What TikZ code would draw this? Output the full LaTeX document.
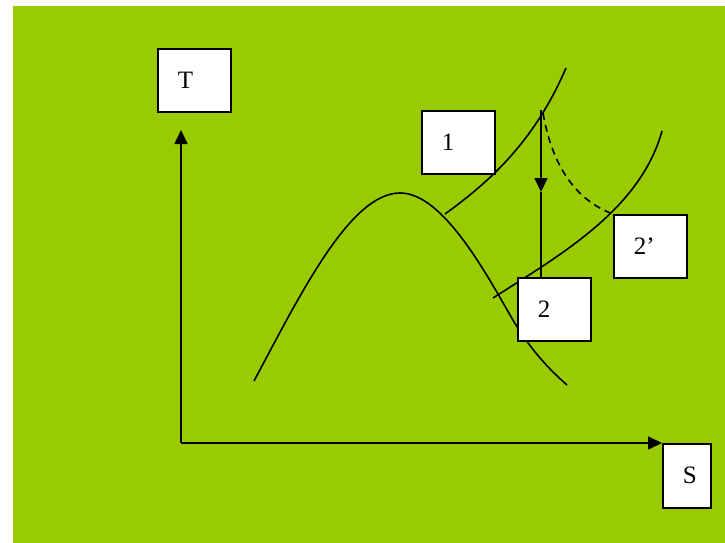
\documentclass[tikz,border=0pt]{standalone}
\usepackage{fontspec}
\setmainfont{Liberation Serif}
\usetikzlibrary{arrows.meta}
\definecolor{bggreen}{HTML}{99CC00}
\begin{document}
\begin{tikzpicture}[x=1pt,y=-1pt,
  curve/.style={line width=1.6pt},
  tagbox/.style={draw,line width=1.6pt,fill=white,anchor=north west,align=left,
    text width=33pt,inner xsep=20pt,inner ysep=0pt,minimum height=63pt,
    font=\fontsize{25}{28}\selectfont},
  axis/.style={line width=1.6pt,-{Triangle[length=14pt,width=13pt]}}]
\useasboundingbox (0,0) rectangle (725,543);
\fill[white] (0,0) rectangle (725,543);
\fill[bggreen] (13,6) rectangle (725,543);
% dome
\draw[curve] (254,381) .. controls (300,295) and (350,193) .. (400,193)
  .. controls (440,193) and (480,262) .. (510,315)
  .. controls (530,350) and (550,370) .. (567,385);
% isobars
\draw[curve] (445,214) .. controls (492,180) and (535,140) .. (566,68);
\draw[curve] (493,298) .. controls (560,255) and (640,210) .. (662,131);
% dashed
\draw[curve,dash pattern=on 7pt off 5pt] (543,113) .. controls (552,165) and (575,200) .. (613,214);
% boxes
\node[tagbox] (tbox) at (157,48) {T};
\node[tagbox] (b1) at (421,110) {1};
\node[tagbox] (b2p) at (613,214) {2’};
\node[tagbox] (b2) at (517,277) {2};
\node[tagbox,text width=8pt,minimum height=64pt] (sbox) at (662,443) {S};
% axes
\coordinate (origin) at (181,443);
\coordinate (ytop) at (181,130);
\draw[axis] (origin) -- (ytop);
\draw[axis] (origin) -- (sbox.north west);
% expansion 1-2
\coordinate (p1) at (541,110);
\coordinate (pm) at (541,192);
\draw[curve,-{Triangle[length=14pt,width=13pt]}] (p1) -- (pm);
\draw[curve] (pm) -- (b2.north -| p1);
\end{tikzpicture}
\end{document}
